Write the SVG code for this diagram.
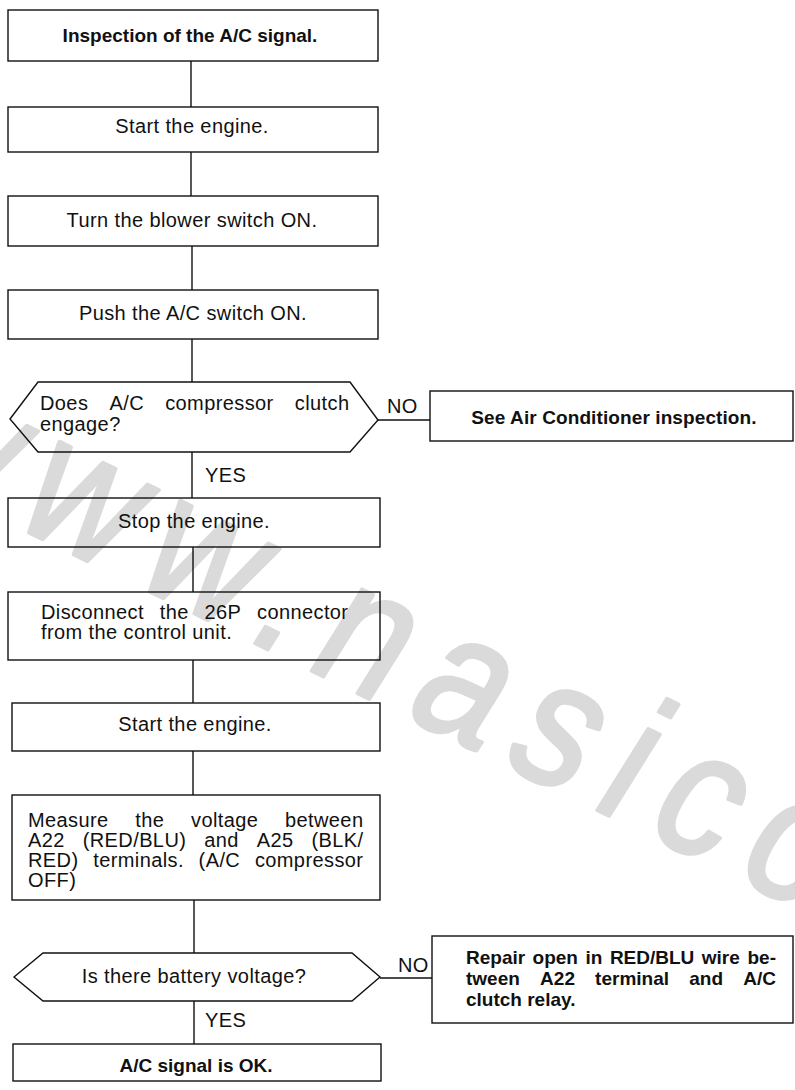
<svg xmlns="http://www.w3.org/2000/svg" width="795" height="1090" viewBox="0 0 795 1090">
  <style>
    .box { fill: none; stroke: #111; stroke-width: 1.4; }
    .wire { fill: none; stroke: #111; stroke-width: 1.4; }
    .t { font-family: "Liberation Sans", Arial, sans-serif; font-size: 20px; letter-spacing: 0.4px; fill: #111; }
    .b { font-family: "Liberation Sans", Arial, sans-serif; font-size: 19px; font-weight: bold; fill: #111; }
    .c { text-anchor: middle; }
    .wm { font-family: "Liberation Sans", Arial, sans-serif; font-size: 180px; letter-spacing: 28px; fill: #dadada; stroke: #dadada; stroke-width: 4; stroke-linejoin: round; }
  </style>
  <rect width="795" height="1090" fill="#fff"/>

  <!-- background watermark -->
  <text class="wm" transform="translate(-112,464) rotate(26) skewX(-6) scale(0.85,1)">www.nasico</text>

  <!-- connectors -->
  <g id="connectors">
    <path class="wire" d="M191 61V107"/>
    <path class="wire" d="M191 152V196"/>
    <path class="wire" d="M192 246V290"/>
    <path class="wire" d="M192 339V382"/>
    <path class="wire" d="M192 452V498"/>
    <text class="t" x="205" y="482">YES</text>
    <path class="wire" d="M378 420H430"/>
    <text class="t" x="387" y="413">NO</text>
    <path class="wire" d="M193 547V592"/>
    <path class="wire" d="M193 660V703"/>
    <path class="wire" d="M193 751V795"/>
    <path class="wire" d="M194 900V953"/>
    <path class="wire" d="M194 1001V1044"/>
    <text class="t" x="205" y="1027">YES</text>
    <path class="wire" d="M380 978H432"/>
    <text class="t" x="398" y="972">NO</text>
  </g>

  <g id="n-start">
    <rect class="box" x="8" y="10" width="370" height="51"/>
    <text class="b c" x="190" y="42">Inspection of the A/C signal.</text>
  </g>

  <g id="n-engine-on-1">
    <rect class="box" x="8" y="107" width="370" height="45"/>
    <text class="t c" x="192" y="133">Start the engine.</text>
  </g>

  <g id="n-blower">
    <rect class="box" x="8" y="196" width="370" height="50"/>
    <text class="t c" x="192" y="227">Turn the blower switch ON.</text>
  </g>

  <g id="n-ac-switch">
    <rect class="box" x="8" y="290" width="370" height="49"/>
    <text class="t c" x="193" y="320">Push the A/C switch ON.</text>
  </g>

  <g id="q-clutch">
    <path class="box" d="M10 419L38 382H350L378 420L350 452H38Z"/>
    <text class="t" y="410"><tspan x="40">Does</tspan><tspan x="109.5">A/C</tspan><tspan x="165.2">compressor</tspan><tspan x="294.8">clutch</tspan></text>
    <text class="t" x="40" y="431">engage?</text>
  </g>

  <g id="n-see-ac">
    <rect class="box" x="430" y="391" width="363" height="50"/>
    <text class="b c" x="614" y="424" letter-spacing="0.1">See Air Conditioner inspection.</text>
  </g>

  <g id="n-engine-off">
    <rect class="box" x="8" y="498" width="372" height="49"/>
    <text class="t c" x="194" y="528">Stop the engine.</text>
  </g>

  <g id="n-disconnect">
    <rect class="box" x="8" y="592" width="372" height="68"/>
    <text class="t" y="619"><tspan x="41">Disconnect</tspan><tspan x="159.7">the</tspan><tspan x="204.5">26P</tspan><tspan x="257">connector</tspan></text>
    <text class="t" x="41" y="639">from the control unit.</text>
  </g>

  <g id="n-engine-on-2">
    <rect class="box" x="12" y="703" width="368" height="48"/>
    <text class="t c" x="195" y="731">Start the engine.</text>
  </g>

  <g id="n-measure">
    <rect class="box" x="12" y="795" width="368" height="105"/>
    <text class="t" y="827"><tspan x="28">Measure</tspan><tspan x="135.3">the</tspan><tspan x="191">voltage</tspan><tspan x="285">between</tspan></text>
    <text class="t" y="847"><tspan x="28">A22</tspan><tspan x="82.7">(RED/BLU)</tspan><tspan x="204.2">and</tspan><tspan x="256.7">A25</tspan><tspan x="311.4">(BLK/</tspan></text>
    <text class="t" y="867"><tspan x="28">RED)</tspan><tspan x="93.2">terminals.</tspan><tspan x="198.6">(A/C</tspan><tspan x="254.9">compressor</tspan></text>
    <text class="t" x="28" y="887">OFF)</text>
  </g>

  <g id="q-battery">
    <path class="box" d="M14 977L43 953H352L380 977L352 1001H43Z"/>
    <text class="t c" x="194" y="983">Is there battery voltage?</text>
  </g>

  <g id="n-repair">
    <rect class="box" x="432" y="936" width="361" height="87"/>
    <text class="b" y="964"><tspan x="466">Repair</tspan><tspan x="532.6">open</tspan><tspan x="585.5">in</tspan><tspan x="609.9">RED/BLU</tspan><tspan x="701.8">wire</tspan><tspan x="747.5">be-</tspan></text>
    <text class="b" y="985"><tspan x="466">tween</tspan><tspan x="540.1">A22</tspan><tspan x="595.1">terminal</tspan><tspan x="689.3">and</tspan><tspan x="743.3">A/C</tspan></text>
    <text class="b" x="466" y="1006">clutch relay.</text>
  </g>

  <g id="n-ok">
    <rect class="box" x="13" y="1044" width="368" height="37"/>
    <text class="b c" x="196" y="1072">A/C signal is OK.</text>
  </g>
</svg>
